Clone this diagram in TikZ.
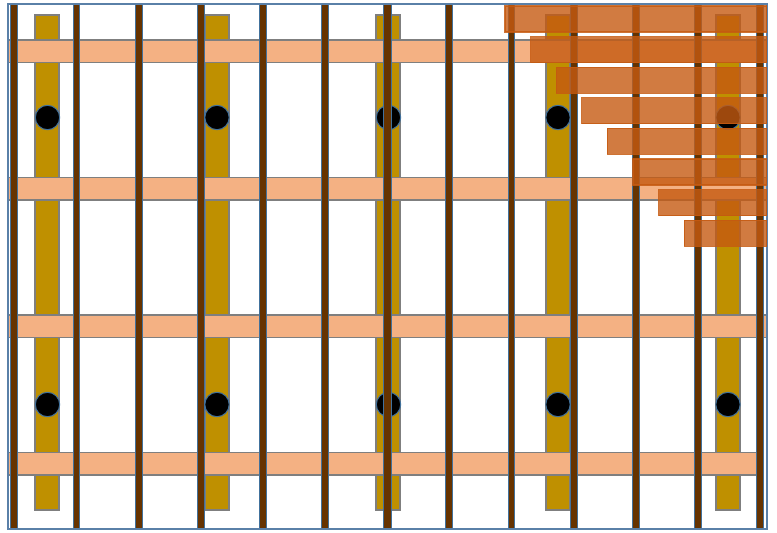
\documentclass[tikz,border=0pt]{standalone}
\definecolor{peach}{HTML}{F4B183}
\definecolor{gold}{HTML}{BF9000}
\definecolor{wood}{HTML}{663300}
\definecolor{edgeblue}{HTML}{41719C}
\definecolor{framblue}{HTML}{5A80A8}
\definecolor{greyline}{HTML}{7F7F7F}
\definecolor{rust}{HTML}{C55A11}
\tikzset{
  peachbar/.style={fill=peach,draw=greyline,line width=1.3pt},
  goldbar/.style={fill=gold,draw=greyline,line width=1.3pt},
  woodbar/.style={fill=wood,draw=edgeblue,line width=1pt},
  blackdot/.style={fill=black,draw=edgeblue,line width=1pt},
  rustbox/.style={fill=rust,fill opacity=0.8,draw=rust,draw opacity=0.85,line width=1.2pt},
  framebox/.style={draw=framblue,line width=1.3pt}
}
\begin{document}
\begin{tikzpicture}[x=1pt,y=-1pt]
\useasboundingbox (0,0) rectangle (777,533);
% gold vertical bars
\foreach \cx in {47,217,388,558,728}
  \draw[goldbar] (\cx-12,15) rectangle (\cx+12,510);
% black dots
\foreach \cx in {47.5,217,388.5,558,728}{
  \draw[blackdot] (\cx,117.5) circle (12.2);
  \draw[blackdot] (\cx,404.5) circle (12.2);
}
% peach horizontal bars
\foreach \ty in {40,177.5,315}
  \draw[peachbar] (8,\ty) rectangle (767,\ty+22.5);
\draw[peachbar] (8,452.5) rectangle (757,475);
% brown vertical bars
\foreach \i in {0,...,12}{
  \pgfmathsetmacro\cx{14.3+62.15*\i}
  \ifnum\i=6
    \draw[woodbar] (\cx-4,4) rectangle (\cx+4,529);
  \else
    \draw[woodbar] (\cx-3.4,4) rectangle (\cx+3.4,529);
  \fi
}
% outer frame
\draw[framebox] (8,4) rectangle (767,529);
% rust staircase
\foreach \i in {0,...,7}{
  \pgfmathsetmacro\lx{505+25.6*\i}
  \pgfmathsetmacro\ty{6+30.6*\i}
  \draw[rustbox] (\lx,\ty) rectangle (766.5,\ty+26);
}
\end{tikzpicture}
\end{document}
